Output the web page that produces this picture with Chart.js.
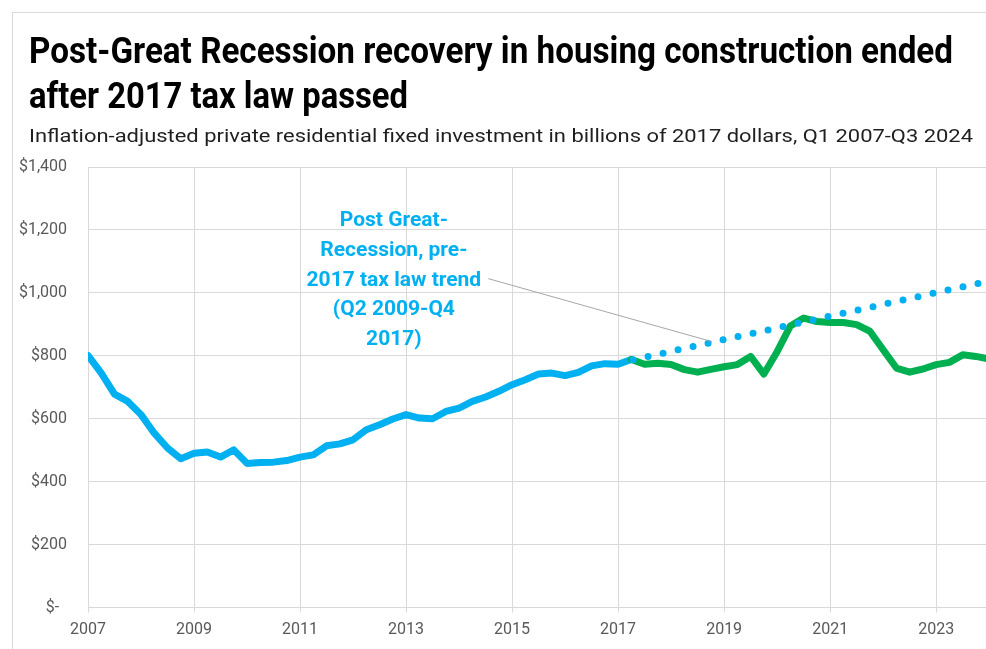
<!DOCTYPE html>
<html>
<head>
<meta charset="utf-8">
<script src="https://cdn.jsdelivr.net/npm/chart.js@4.4.1/dist/chart.umd.min.js"></script>
<style>
  html, body { margin: 0; padding: 0; background: #fff; overflow: hidden; }
  #wrap { position: relative; width: 986px; height: 649px; overflow: hidden; }
  #frame { position: absolute; left: 12px; top: 12px; width: 1200px; height: 900px; border: 1px solid #d9d9d9; box-sizing: border-box; }
  .line { position: absolute; left: 29px; white-space: nowrap; transform-origin: 0 0; font-family: Roboto, sans-serif; line-height: 1; }
  .title { font-size: 36px; font-weight: 700; color: #000; }
  .sub { font-size: 19px; color: #1f1f1f; }
  canvas { position: absolute; left: 0; top: 0; }
</style>
</head>
<body>
<div id="wrap">
  <div id="frame"></div>
  <canvas id="housing-chart" width="986" height="649"></canvas>
  <div class="line title" style="top:32.7px" data-w="924">Post-Great Recession recovery in housing construction ended</div>
  <div class="line title" style="top:77.7px" data-w="379">after 2017 tax law passed</div>
  <div class="line sub" style="top:125.7px" data-w="944">Inflation-adjusted private residential fixed investment in billions of 2017 dollars, Q1 2007-Q3 2024</div>
</div>
<script>
// Real private residential fixed investment, billions of 2017 dollars, quarterly

// Q1 2007 - Q2 2017
const preLawStart = '2007Q1';
const preLawValues = [
  801, 745, 678, 655,
  613, 554, 507, 473,
  490, 494, 478, 501,
  458, 461, 462, 467,
  478, 485, 514, 520,
  533, 565, 581, 599,
  613, 602, 600, 623,
  634, 655, 669, 687,
  708, 724, 742, 745,
  737, 747, 768, 775,
  773, 788
];

// Q2 2017 - Q1 2024
const postLawStart = '2017Q2';
const postLawValues = [
  788, 773, 776,
  772, 756, 748, 757,
  765, 772, 798, 742,
  813, 895, 920, 909,
  906, 906, 899, 878,
  819, 761, 748, 758,
  772, 779, 803, 798,
  790
];

// linear trend fitted over Q2 2009 - Q4 2017, extended forward
const trendQuarters = ['2017Q2', '2024Q1'];
const trendValues = [786, 1038];

const yearTicks = [2007, 2009, 2011, 2013, 2015, 2017, 2019, 2021, 2023];
const dollarTicks = [0, 200, 400, 600, 800, 1000, 1200, 1400];

const noteLines = ['Post Great-', 'Recession, pre-', '2017 tax law trend', '(Q2 2009-Q4', '2017)'];

const BLUE = '#00B0F0';
const GREEN = '#00B050';
const GRID = '#d9d9d9';
const TICK_TEXT = '#595959';

function quarterToX(label) {
  const [y, q] = label.split('Q');
  return Number(y) + (Number(q) - 1) / 4;
}

function toPoints(startLabel, values) {
  const x0 = quarterToX(startLabel);
  return values.map((v, i) => ({ x: x0 + i / 4, y: v }));
}

// stretch each heading line to its set width (condensed headline face)
document.querySelectorAll('.line').forEach(el => {
  const w = el.getBoundingClientRect().width;
  el.style.transform = 'scaleX(' + (Number(el.dataset.w) / w) + ')';
});

// callout text + leader line pointing at the trend
const trendNote = {
  id: 'trendNote',
  afterDatasetsDraw(chart) {
    const { ctx, scales: { x, y } } = chart;
    const cx = x.getPixelForValue(2012.77);
    const base3 = y.getPixelForValue(1023);
    const gap = 29.7;

    ctx.save();
    ctx.font = 'bold 21px Roboto, sans-serif';
    ctx.textAlign = 'center';
    ctx.textBaseline = 'alphabetic';

    const w3 = ctx.measureText(noteLines[2]).width;
    ctx.strokeStyle = '#a6a6a6';
    ctx.lineWidth = 1;
    ctx.beginPath();
    ctx.moveTo(cx + w3 / 2 + 7, base3 - 7);
    ctx.lineTo(x.getPixelForValue(2018.77), y.getPixelForValue(845));
    ctx.stroke();

    ctx.fillStyle = BLUE;
    noteLines.forEach((t, i) => {
      ctx.fillText(t, cx, base3 + (i - 2) * gap);
    });
    ctx.restore();
  }
};

const ctx = document.getElementById('housing-chart').getContext('2d');
new Chart(ctx, {
  type: 'line',
  data: {
    datasets: [
      {
        label: 'Trend',
        data: trendQuarters.map((q, i) => ({ x: quarterToX(q), y: trendValues[i] })),
        borderColor: BLUE,
        borderWidth: 7,
        borderDash: [0, 15.36],
        borderDashOffset: 13.6,
        borderCapStyle: 'round',
        pointRadius: 0,
      },
      {
        label: 'After 2017 tax law',
        data: toPoints(postLawStart, postLawValues),
        borderColor: GREEN,
        borderWidth: 7,
        borderJoinStyle: 'round',
        borderCapStyle: 'round',
        pointRadius: 0,
      },
      {
        label: 'Before 2017 tax law',
        data: toPoints(preLawStart, preLawValues),
        borderColor: BLUE,
        borderWidth: 7,
        borderJoinStyle: 'round',
        borderCapStyle: 'round',
        pointRadius: 0,
      },
    ]
  },
  options: {
    responsive: false,
    animation: false,
    layout: { padding: { top: 167, left: 0, right: 0, bottom: 0 } },
    plugins: {
      legend: { display: false },
      tooltip: { enabled: false },
    },
    scales: {
      x: {
        type: 'linear',
        min: 2007,
        max: 2023.94,
        afterBuildTicks: s => { s.ticks = yearTicks.map(v => ({ value: v })); },
        afterFit: s => { s.height = 41.5; },
        grid: { color: GRID, tickLength: 5 },
        border: { color: GRID },
        ticks: {
          padding: 8,
          color: TICK_TEXT,
          font: { family: 'Roboto', size: 16 },
          maxRotation: 0,
          autoSkip: false,
          callback: v => String(v),
        }
      },
      y: {
        min: 0,
        max: 1400,
        afterBuildTicks: s => { s.ticks = dollarTicks.map(v => ({ value: v })); },
        afterFit: s => { s.width = 88; },
        grid: { color: GRID, drawTicks: false },
        border: { display: false },
        ticks: {
          padding: 21,
          color: TICK_TEXT,
          font: { family: 'Roboto', size: 16 },
          callback: v => v === 0 ? '$-  ' : '$' + v.toLocaleString('en-US'),
        }
      }
    }
  },
  plugins: [trendNote]
});
</script>
</body>
</html>
